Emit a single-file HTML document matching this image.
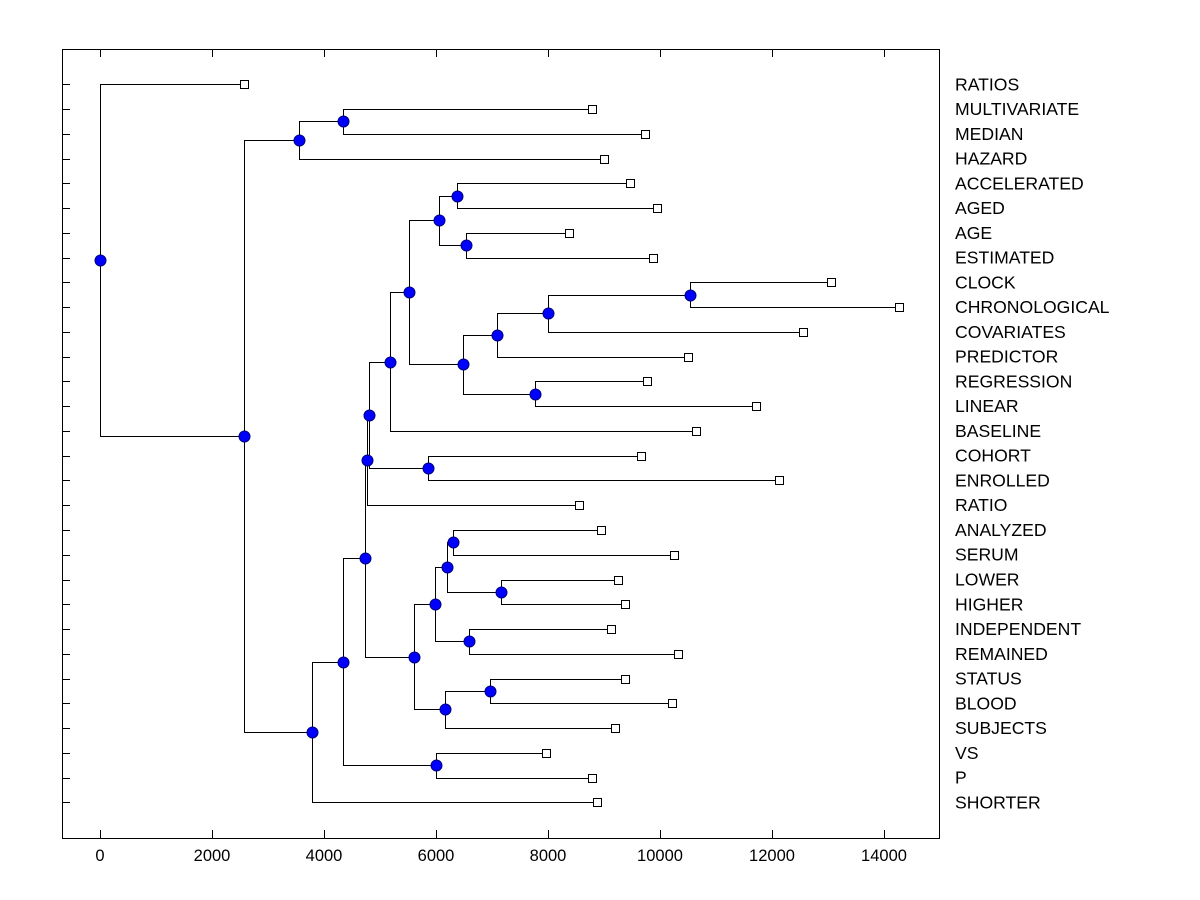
<!DOCTYPE html>
<html><head><meta charset="utf-8"><style>
body{margin:0;background:#fff}
svg{display:block;font-family:"Liberation Sans",Arial,sans-serif}
</style></head><body>
<svg id="chart" width="1200" height="900">
<rect x="62.5" y="49.5" width="877" height="789" fill="none" stroke="#000"/>
<g id="g"></g>
</svg>
<script>
const leafNames=["RATIOS","MULTIVARIATE","MEDIAN","HAZARD","ACCELERATED","AGED","AGE","ESTIMATED","CLOCK","CHRONOLOGICAL","COVARIATES","PREDICTOR","REGRESSION","LINEAR","BASELINE","COHORT","ENROLLED","RATIO","ANALYZED","SERUM","LOWER","HIGHER","INDEPENDENT","REMAINED","STATUS","BLOOD","SUBJECTS","VS","P","SHORTER"];
const leafValues=[2571,8786,9732,9000,9464,9946,8375,9875,13054,14268,12554,10500,9768,11714,10643,9661,12125,8554,8946,10250,9250,9375,9125,10321,9375,10214,9196,7964,8786,8875];
const mergeLeft=[1,30,4,6,32,8,35,36,12,37,34,40,15,41,43,18,20,45,22,47,24,50,49,44,27,53,55,31,0];
const mergeRight=[2,3,5,7,33,9,10,11,13,38,39,14,16,42,17,19,21,46,23,48,25,26,51,52,28,54,29,56,57];
const mergeValues=[4339,3554,6375,6536,6054,10536,8000,7089,7768,6482,5518,5179,5857,4804,4768,6304,7161,6196,6589,5982,6964,6161,5607,4732,6000,4339,3786,2571,0];
const xTicks=[0,2000,4000,6000,8000,10000,12000,14000];
const NS="http://www.w3.org/2000/svg";
const g=document.getElementById('g');
const X=v=>100+v*0.056;
const Y=i=>84.3+i*24.76;
function mk(t,a){const e=document.createElementNS(NS,t);for(const k in a)e.setAttribute(k,a[k]);g.appendChild(e);return e;}
xTicks.forEach(t=>{
 const x=Math.round(X(t))+0.5;
 let e=mk('line',{x1:x,x2:x,y1:838,y2:830,stroke:'#000'});
 
 
 e=mk('line',{x1:x,x2:x,y1:49,y2:57,stroke:'#000'});
 
 
 e=mk('text',{x:X(t),y:861,'text-anchor':'middle','font-size':'16.5'});e.textContent=t;
 
 
});
const pos={};
leafNames.forEach((n,i)=>{
 pos[i]={x:X(leafValues[i]),y:Y(i)};
 const y=Math.round(Y(i))+0.5;
 let e=mk('line',{x1:62,x2:70,y1:y,y2:y,stroke:'#000'});
 
 
 e=mk('text',{x:955,y:Y(i)+6,'font-size':'17.6'});e.textContent=n;
 
 
});
const nodes=[];
mergeLeft.forEach((l,k)=>{
 const r=mergeRight[k];const id=30+k;
 const x=X(mergeValues[k]);const a=pos[l],b=pos[r];
 const y=(a.y+b.y)/2;pos[id]={x,y};
 let e=mk('path',{d:`M${a.x} ${Math.round(a.y)+0.5}H${Math.round(x)+0.5}V${Math.round(b.y)+0.5}H${b.x}`,fill:'none',stroke:'#000'});
 
 
 nodes.push(id);
});
nodes.forEach(id=>{
 const e=mk('circle',{cx:Math.round(pos[id].x)+0.5,cy:Math.round(pos[id].y)+0.5,r:5.5,fill:'#0000ff',stroke:'#000080'});
 
 
});
leafNames.forEach((n,i)=>{
 const e=mk('rect',{x:Math.round(pos[i].x)-3.5,y:Math.round(pos[i].y)-3.5,width:8,height:8,fill:'#fff',stroke:'#000'});
 
 
});
</script>
</body></html>
